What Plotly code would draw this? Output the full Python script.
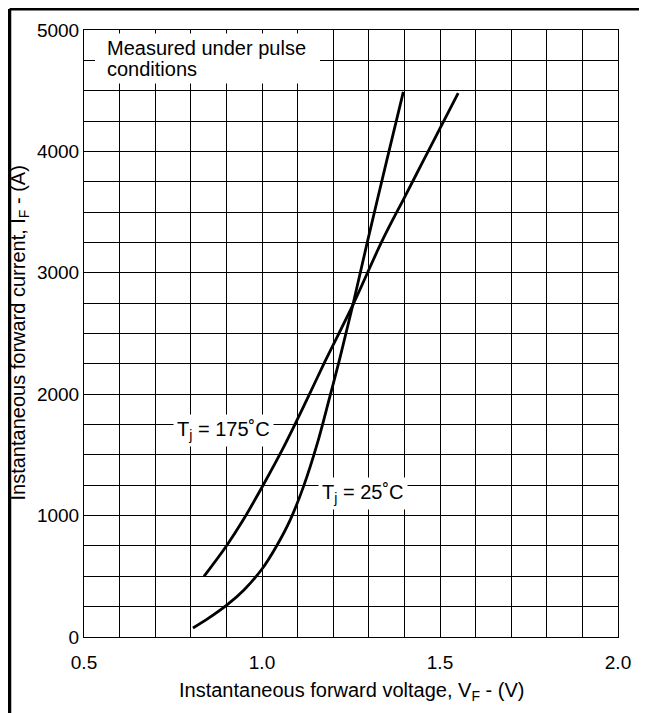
import plotly.graph_objects as go

# Tj = 25 C curve
v_25 = [0.806, 0.85, 0.90, 0.95, 1.00, 1.041, 1.079, 1.118, 1.155, 1.188, 1.219, 1.255, 1.297, 1.35, 1.397]
i_25 = [74, 155, 260, 390, 560, 750, 963, 1251, 1590, 1951, 2300, 2733, 3267, 3920, 4490]

# Tj = 175 C curve
v_175 = [0.837, 0.90, 0.947, 1.003, 1.06, 1.126, 1.177, 1.255, 1.338, 1.40, 1.45, 1.50, 1.551]
i_175 = [500, 750, 963, 1250, 1560, 1955, 2270, 2733, 3267, 3620, 3905, 4190, 4480]

x_tickvals = [0.5, 1.0, 1.5, 2.0]
x_ticktext = ["0.5", "1.0", "1.5", "2.0"]
y_tickvals = [0, 1000, 2000, 3000, 4000, 5000]
y_ticktext = ["0", "1000", "2000", "3000", "4000", "5000"]

label_25 = "T<sub>j</sub> = 25˚C"
label_175 = "T<sub>j</sub> = 175˚C"
note_line1 = "Measured under pulse"
note_line2 = "conditions"
x_title = "Instantaneous forward voltage, V<sub>F</sub> - (V)"
y_title = "Instantaneous forward current, I<sub>F</sub> - (A)"

FONT = "Liberation Sans, Arial, sans-serif"

fig = go.Figure()
for xs, ys in [(v_25, i_25), (v_175, i_175)]:
    fig.add_trace(go.Scatter(x=xs, y=ys, mode="lines",
                             line=dict(color="black", width=2.8, shape="spline", smoothing=1.0),
                             showlegend=False, hoverinfo="skip"))

axis_common = dict(showline=True, mirror=True, linecolor="black", linewidth=1,
                   showgrid=True, gridcolor="black", gridwidth=1, zeroline=False,
                   ticks="", tickfont=dict(family=FONT, size=19, color="black"))

fig.update_xaxes(range=[0.5, 2.0], tickvals=x_tickvals, ticktext=x_ticktext,
                 ticklabelstandoff=8,
                 minor=dict(dtick=0.1, tick0=0.5, showgrid=True, gridcolor="black", gridwidth=1),
                 **axis_common)
fig.update_yaxes(range=[0, 5000], tickvals=y_tickvals, ticktext=y_ticktext,
                 minor=dict(dtick=250, tick0=0, showgrid=True, gridcolor="black", gridwidth=1),
                 **axis_common)

# white box behind the note
fig.add_shape(type="rect", xref="x", yref="y", x0=0.531, x1=1.163, y0=4560, y1=4971,
              fillcolor="white", line=dict(width=0), layer="above")

# outer frame lines (top and left)
fig.add_shape(type="line", xref="paper", yref="paper", x0=-0.1395, x1=1.1, y0=1.0346, y1=1.0346,
              line=dict(color="black", width=3))
fig.add_shape(type="line", xref="paper", yref="paper", x0=-0.1395, x1=-0.1395, y0=-0.2, y1=1.0346,
              line=dict(color="black", width=3.5))

tf = dict(family=FONT, size=20, color="black")
fig.add_annotation(x=0.559, y=4848, xref="x", yref="y", text=note_line1, showarrow=False,
                   xanchor="left", yanchor="middle", font=tf)
fig.add_annotation(x=0.559, y=4675, xref="x", yref="y", text=note_line2, showarrow=False,
                   xanchor="left", yanchor="middle", font=tf)
fig.add_annotation(x=0.893, y=1704, xref="x", yref="y", text=label_175, showarrow=False,
                   xanchor="center", yanchor="middle", font=tf, bgcolor="white", borderpad=3)
fig.add_annotation(x=1.284, y=1185, xref="x", yref="y", text=label_25, showarrow=False,
                   xanchor="center", yanchor="middle", font=tf, bgcolor="white", borderpad=3)

fig.add_annotation(x=0.5, y=-0.0905, xref="paper", yref="paper", text=x_title, showarrow=False,
                   xanchor="center", yanchor="middle", font=tf)
fig.add_annotation(x=-0.1217, y=0.5, xref="paper", yref="paper", text=y_title, showarrow=False,
                   xanchor="center", yanchor="middle", textangle=-90, font=tf)

fig.update_layout(width=639, height=705, margin=dict(l=76, r=29, t=22, b=76),
                  paper_bgcolor="white", plot_bgcolor="white",
                  font=dict(family=FONT, size=19, color="black"))

fig.write_html("out.html")
